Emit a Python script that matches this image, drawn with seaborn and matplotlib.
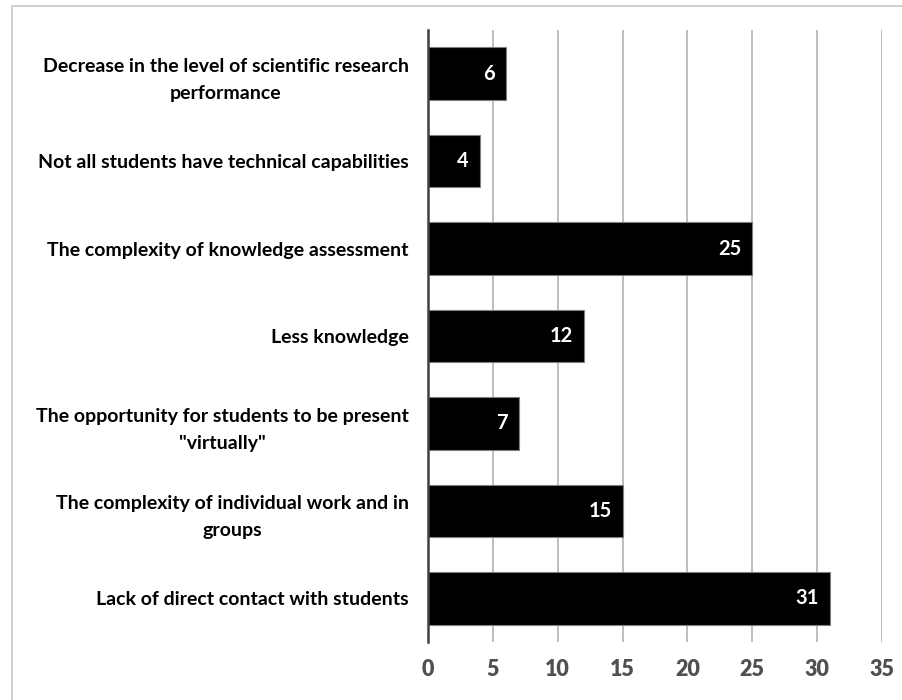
import matplotlib
matplotlib.use("Agg")
import matplotlib.pyplot as plt
import seaborn as sns
import pandas as pd
from matplotlib.patches import Rectangle

categories = [
    "Decrease in the level of scientific research\nperformance",
    "Not all students have technical capabilities",
    "The complexity of knowledge assessment",
    "Less knowledge",
    "The opportunity for students to be present\n\"virtually\"",
    "The complexity of individual work and in\ngroups",
    "Lack of direct contact with students",
]
values = [6, 4, 25, 12, 7, 15, 31]
xticks = [0, 5, 10, 15, 20, 25, 30, 35]

sns.set_theme(style="white")
plt.rcParams['font.family'] = ['Lato', 'DejaVu Sans']

df = pd.DataFrame({'category': categories, 'value': values})

fig = plt.figure(figsize=[9.03, 7.0], dpi=100)
ax = fig.add_axes([428/903, 1-642/700, (882-428)/903, (642-30)/700])

sns.barplot(data=df, x='value', y='category', color='black', orient='h',
            width=0.6, edgecolor='#7f7f7f', linewidth=0.8, ax=ax, zorder=3)

ax.set_xlim(0, 35)
ax.set_ylim(len(categories)-0.5, -0.5)
ax.set_xticks(xticks)
ax.set_xticklabels([str(t) for t in xticks], fontsize=15.5, color='#505050')
for t in ax.get_xticklabels():
    t.set_fontweight('heavy')
ax.set_yticks(range(len(categories)))
ax.set_yticklabels(categories, fontsize=14, fontweight='bold', color='black',
                   multialignment='center', linespacing=1.7)
ax.tick_params(axis='both', length=0)
ax.tick_params(axis='x', pad=12)
ax.tick_params(axis='y', pad=14)
ax.set_xlabel('')
ax.set_ylabel('')
ax.grid(axis='x', color='#b3b3b3', linewidth=1.2, zorder=0)
ax.set_axisbelow(True)
for s in ['top', 'right', 'bottom']:
    ax.spines[s].set_visible(False)
ax.spines['left'].set_color('#404040')
ax.spines['left'].set_linewidth(1.8)
ax.spines['left'].set_zorder(4)

anns = ax.bar_label(ax.containers[0], labels=[str(v) for v in values], padding=-8,
                    color='white', fontsize=14.5, fontweight='bold')
for a in anns:
    a.set_ha('right')

fig.patches.append(Rectangle((12/903, -0.1), 1.2, 1.1-6/700, transform=fig.transFigure,
                             fill=False, edgecolor='#c8c8c8', linewidth=1.2, figure=fig))

fig.savefig('out.png', dpi=100)
